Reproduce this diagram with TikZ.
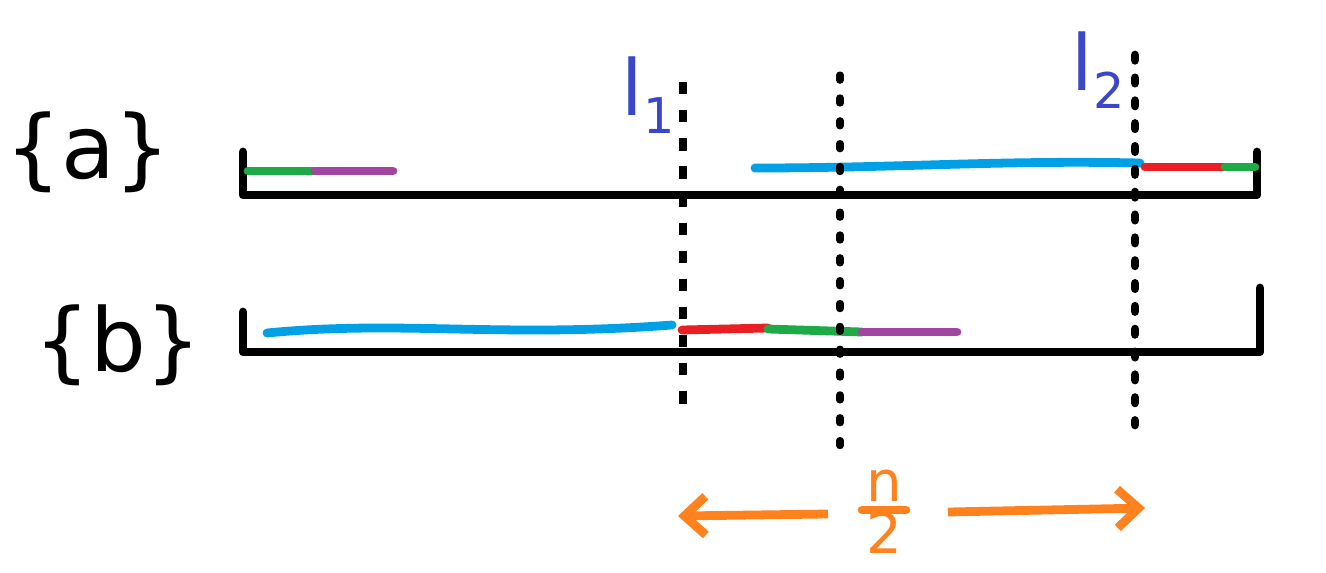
\documentclass[tikz,border=0pt]{standalone}
\usepackage{fontspec}
\setmainfont{DejaVu Sans}
\usetikzlibrary{arrows.meta}
\definecolor{cblue}{RGB}{0,160,230}
\definecolor{cgreen}{RGB}{30,170,70}
\definecolor{cpurple}{RGB}{160,70,160}
\definecolor{cred}{RGB}{235,30,35}
\definecolor{corange}{RGB}{255,130,30}
\definecolor{clab}{RGB}{60,70,200}
\begin{document}
\begin{tikzpicture}[x=0.02cm,y=-0.02cm,
  bar/.style={line width=5pt,line cap=round,line join=round},
  seg/.style={line width=5pt,line cap=round},
  vline/.style={line width=5pt,dash pattern=on 7pt off 9pt},
  vdot/.style={line width=4pt,dash pattern=on 3pt off 10pt,line cap=round},
  big/.style={font=\fontsize{50}{56}\selectfont},
  lab/.style={font=\fontsize{44}{50}\selectfont,text=clab},
  frac/.style={font=\fontsize{32}{38}\selectfont,text=corange,inner sep=0pt}]
\useasboundingbox (0,0) rectangle (1326,572);
\node[big] (ta) at (88,152) {\{a\}};
\node[big] (tb) at (118,345) {\{b\}};
\draw[bar] (243,152) -- (243,195) -- (1257,195) -- (1257,152);
\draw[bar] (243,312) -- (243,352) -- (1260,352) -- (1260,288);
\draw[seg,cgreen] (248,171) -- (315,171);
\draw[seg,cpurple] (315,171) -- (393,171);
\draw[seg,cblue] (755,168) .. controls (900,168) and (1000,160) .. (1140,163);
\draw[seg,cred] (1145,167) -- (1225,167);
\draw[seg,cgreen] (1225,167) -- (1255,167);
\draw[seg,cblue] (267,333) .. controls (400,320) and (500,338) .. (672,325);
\draw[seg,cred] (682,330) -- (768,328);
\draw[seg,cgreen] (768,329) -- (862,332);
\draw[seg,cpurple] (862,332) -- (957,332);
\coordinate (l1t) at (683,82); \coordinate (l1b) at (683,410);
\coordinate (mt) at (840,75); \coordinate (mb) at (840,450);
\coordinate (l2t) at (1135,55); \coordinate (l2b) at (1135,425);
\draw[vline] (l1t) -- (l1b);
\draw[vdot] (mt) -- (mb);
\draw[vdot,line width=5pt] (l2t) -- (l2b);
\node[lab] (L1) at (648,95) {l\raisebox{-10pt}{\fontsize{28}{32}\selectfont 1}};
\node[lab] (L2) at (1098,70) {l\raisebox{-10pt}{\fontsize{28}{32}\selectfont 2}};
\node[frac] (nn) at (884,486) {n};
\node[frac] (dd) at (884,533) {2};
\draw[corange,line width=5pt,line cap=round] (862,510) -- (906,510);
\coordinate (a1s) at (828,514); \coordinate (a1e) at (678,516);
\coordinate (a2s) at (948,512); \coordinate (a2e) at (1145,508);
\draw[corange,line width=5pt,-{Straight Barb[length=12pt,width=22pt]}] (a1s) -- (a1e);
\draw[corange,line width=5pt,-{Straight Barb[length=12pt,width=22pt]}] (a2s) -- (a2e);
\end{tikzpicture}
\end{document}
